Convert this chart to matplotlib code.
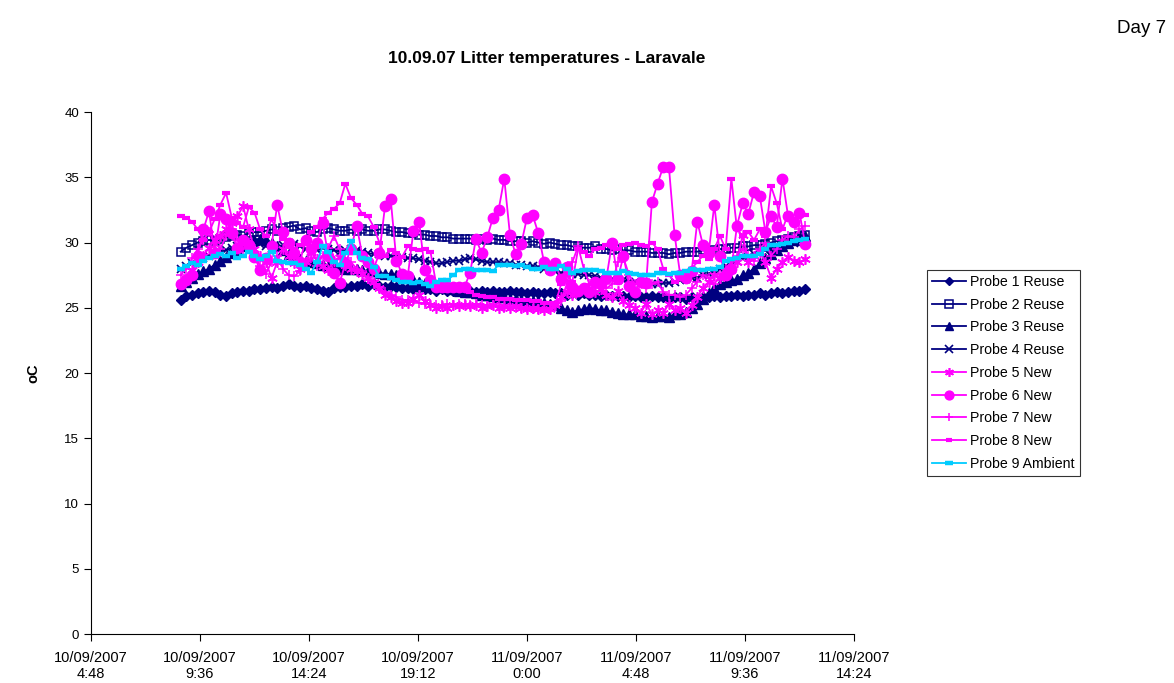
import matplotlib
matplotlib.use("Agg")
import matplotlib.pyplot as plt
import matplotlib.dates as mdates
from matplotlib.ticker import FuncFormatter, MultipleLocator
import numpy as np
import pandas as pd

plt.rcParams["font.family"] = ["Liberation Sans", "DejaVu Sans"]

# Logger readings, every 15 minutes
start_time = "2007-09-10 08:45"
interval = "15min"

probe1_reuse = [
    25.6, 25.9, 26.0, 26.1, 26.2, 26.3, 26.2, 26.0, 25.9, 26.1,
    26.2, 26.3, 26.3, 26.4, 26.4, 26.5, 26.6, 26.5, 26.7, 26.8,
    26.7, 26.6, 26.7, 26.5, 26.4, 26.3, 26.2, 26.5, 26.6, 26.6,
    26.7, 26.7, 26.8, 26.7, 26.8, 26.7, 26.6, 26.7, 26.6, 26.5,
    26.5, 26.4, 26.5, 26.4, 26.4, 26.3, 26.4, 26.3, 26.3, 26.3,
    26.3, 26.3, 26.2, 26.3, 26.2, 26.3, 26.2, 26.2, 26.3, 26.2,
    26.2, 26.1, 26.2, 26.1, 26.1, 26.2, 26.1, 26.1, 26.0, 26.1,
    26.0, 26.1, 26.0, 26.0, 25.9, 26.0, 25.9, 25.9, 25.9, 25.8,
    25.9, 25.8, 25.8, 25.9, 25.8, 25.8, 25.7, 25.8, 25.8, 25.7,
    25.8, 25.7, 25.8, 25.8, 25.9, 25.8, 25.9, 25.9, 26.0, 25.9,
    26.0, 26.0, 26.1, 26.0, 26.1, 26.2, 26.1, 26.2, 26.3, 26.3, 26.4,
]
probe2_reuse = [
    29.3, 29.6, 29.8, 30.0, 30.1, 30.2, 30.1, 30.3, 30.4, 30.5,
    30.6, 30.5, 30.7, 30.8, 30.8, 30.9, 31.0, 30.9, 31.1, 31.2,
    31.3, 31.0, 31.1, 30.9, 30.8, 31.0, 31.1, 31.0, 30.9, 30.9,
    31.0, 30.9, 31.0, 30.9, 30.9, 31.0, 31.0, 30.9, 30.8, 30.8,
    30.7, 30.7, 30.6, 30.6, 30.5, 30.5, 30.4, 30.4, 30.3, 30.3,
    30.3, 30.3, 30.2, 30.3, 30.2, 30.3, 30.2, 30.2, 30.1, 30.1,
    30.1, 30.0, 30.1, 30.0, 29.9, 30.0, 29.9, 29.8, 29.8, 29.7,
    29.7, 29.6, 29.6, 29.7, 29.5, 29.5, 29.4, 29.5, 29.4, 29.4,
    29.3, 29.3, 29.3, 29.2, 29.2, 29.2, 29.1, 29.2, 29.2, 29.3,
    29.3, 29.3, 29.4, 29.3, 29.4, 29.5, 29.5, 29.6, 29.6, 29.7,
    29.7, 29.8, 29.8, 29.9, 30.0, 30.1, 30.2, 30.3, 30.4, 30.5, 30.6,
]
probe3_reuse = [
    26.7, 27.0, 27.3, 27.6, 27.8, 28.0, 28.3, 28.6, 28.9, 29.2,
    29.4, 29.7, 30.0, 30.2, 30.3, 30.2, 30.0, 29.7, 29.4, 29.1,
    28.9, 28.7, 28.6, 28.5, 28.4, 28.3, 28.2, 28.1, 28.1, 28.0,
    28.0, 28.0, 27.9, 27.8, 27.8, 27.7, 27.6, 27.6, 27.5, 27.4,
    27.3, 27.1, 27.0, 26.9, 26.8, 26.7, 26.6, 26.5, 26.4, 26.3,
    26.2, 26.2, 26.1, 26.0, 26.0, 25.9, 25.8, 25.8, 25.7, 25.7,
    25.6, 25.6, 25.5, 25.5, 25.4, 25.3, 25.2, 25.0, 24.8, 24.7,
    24.8, 24.9, 25.0, 24.9, 24.8, 24.8, 24.7, 24.6, 24.5, 24.5,
    24.5, 24.4, 24.4, 24.3, 24.4, 24.4, 24.3, 24.5, 24.5, 24.7,
    25.0, 25.3, 25.7, 26.1, 26.5, 26.8, 27.0, 27.1, 27.2, 27.5,
    27.7, 28.0, 28.4, 28.8, 29.1, 29.4, 29.7, 30.0, 30.2, 30.4, 30.5,
]
probe4_reuse = [
    28.0, 28.2, 28.4, 28.6, 28.8, 29.0, 29.1, 29.3, 29.4, 29.6,
    29.7, 29.8, 29.9, 30.0, 29.9, 29.7, 29.6, 29.5, 29.8, 30.0,
    29.9, 29.7, 29.5, 29.3, 29.4, 29.6, 29.5, 29.4, 29.3, 29.4,
    29.5, 29.4, 29.3, 29.2, 29.1, 29.1, 29.0, 29.0, 28.9, 28.9,
    28.8, 28.8, 28.7, 28.6, 28.5, 28.4, 28.4, 28.5, 28.6, 28.6,
    28.7, 28.8, 28.7, 28.6, 28.5, 28.5, 28.5, 28.4, 28.4, 28.3,
    28.3, 28.2, 28.2, 28.1, 28.0, 27.9, 27.8, 27.7, 27.7, 27.6,
    27.6, 27.5, 27.5, 27.4, 27.3, 27.2, 27.2, 27.1, 27.1, 27.0,
    27.0, 26.9, 26.9, 26.8, 26.8, 26.9, 26.9, 27.0, 27.1, 27.2,
    27.3, 27.3, 27.5, 27.6, 27.8, 28.0, 28.2, 28.4, 28.6, 28.8,
    28.9, 29.1, 29.3, 29.4, 29.5, 29.7, 29.8, 29.9, 30.0, 30.1, 30.2,
]
probe5_new = [
    26.8, 27.2, 27.9, 28.5, 29.0, 29.6, 30.2, 30.5, 31.0, 31.5,
    32.0, 32.8, 31.0, 29.5, 29.0, 28.5, 27.3, 28.5, 29.5, 29.0,
    28.4, 28.0, 28.5, 29.3, 28.7, 28.2, 27.9, 28.6, 28.9, 28.3,
    28.0, 27.8, 27.6, 27.3, 27.0, 26.5, 26.0, 25.8, 25.5, 25.4,
    25.4, 25.7, 26.0, 25.5, 25.2, 25.0, 25.1, 25.0, 25.2, 25.1,
    25.2, 25.1, 25.2, 25.0, 25.1, 25.2, 25.0, 25.1, 25.0, 25.1,
    25.0, 24.9, 25.0, 24.9, 24.8, 24.9, 25.2, 25.8, 26.2, 26.0,
    26.3, 26.5, 26.4, 26.2, 26.4, 26.0, 25.8, 26.3, 25.5, 25.2,
    25.0, 24.6, 25.3, 24.5, 24.8, 24.6, 25.3, 24.8, 25.0, 24.6,
    25.2, 25.8, 26.5, 27.0, 27.5, 27.3, 27.8, 27.9, 28.5, 30.6,
    28.5, 29.0, 29.3, 28.5, 27.3, 28.0, 28.5, 28.9, 28.6, 28.5, 28.7,
]
probe6_new = [
    26.8, 27.1, 27.5, 29.0, 31.0, 32.4, 29.2, 32.2, 31.8, 30.7,
    29.6, 30.2, 29.8, 28.9, 27.9, 28.8, 29.7, 32.9, 30.8, 30.0,
    29.2, 28.5, 30.2, 29.5, 30.0, 31.5, 29.0, 27.7, 26.9, 28.4,
    29.5, 31.3, 29.0, 28.5, 28.0, 29.2, 32.8, 33.3, 28.6, 27.6,
    27.4, 30.9, 31.6, 27.9, 27.1, 26.6, 26.6, 26.6, 26.6, 26.6,
    26.6, 27.7, 30.3, 29.2, 30.4, 31.9, 32.5, 34.9, 30.6, 29.1,
    29.9, 31.9, 32.1, 30.7, 28.5, 27.9, 28.4, 27.2, 28.1, 26.6,
    26.3, 26.5, 26.2, 27.0, 26.8, 27.3, 30.0, 27.2, 29.0, 26.7,
    26.2, 27.0, 26.9, 33.1, 34.5, 35.8, 35.8, 30.6, 27.5, 27.3,
    27.8, 31.6, 29.8, 29.2, 32.9, 29.0, 27.5, 28.0, 31.3, 33.0,
    32.2, 33.9, 33.6, 30.8, 32.0, 31.2, 34.9, 32.0, 31.6, 32.3, 29.9,
]
probe7_new = [
    27.5, 28.0, 28.8, 29.5, 30.2, 30.8, 30.0, 29.5, 30.5, 31.0,
    30.2, 29.5, 30.0, 29.0, 28.2, 27.6, 28.5, 29.0, 28.0, 27.5,
    27.4, 27.8, 28.5, 28.8, 28.2, 29.0, 29.6, 30.5, 29.5, 28.8,
    28.5, 28.0, 27.8, 27.2, 26.8, 26.5, 26.2, 26.0, 25.8, 25.6,
    25.6, 25.5, 25.4, 25.3, 25.3, 25.2, 25.2, 25.3, 25.2, 25.3,
    25.3, 25.2, 25.3, 25.2, 25.1, 25.2, 25.1, 25.0, 25.1, 25.0,
    25.0, 25.0, 24.9, 24.9, 25.0, 24.9, 25.1, 25.5, 26.8, 28.5,
    29.7, 28.0, 26.8, 26.5, 27.0, 26.5, 26.8, 28.5, 28.8, 27.5,
    26.8, 27.0, 26.5, 26.8, 27.0, 26.2, 26.0, 26.0, 25.8, 26.0,
    26.5, 27.0, 27.5, 27.3, 26.8, 27.5, 28.0, 28.5, 29.0, 29.5,
    29.0, 28.6, 29.5, 30.0, 29.0, 29.5, 30.2, 30.5, 30.4, 31.0, 31.3,
]
probe8_new = [
    32.0, 31.9, 31.6, 31.0, 30.2, 30.8, 31.8, 32.9, 33.8, 31.9,
    31.5, 31.2, 32.7, 32.3, 31.0, 30.5, 31.8, 30.8, 30.3, 30.0,
    29.5, 29.8, 30.2, 30.8, 31.2, 31.8, 32.3, 32.6, 33.0, 34.5,
    33.4, 32.9, 32.2, 32.0, 31.2, 30.0, 29.0, 29.4, 29.2, 28.9,
    29.7, 29.5, 29.4, 29.5, 29.3, 26.8, 26.6, 26.5, 26.5, 26.4,
    26.4, 26.2, 26.0, 25.9, 25.8, 25.8, 25.7, 25.7, 25.7, 25.6,
    25.6, 25.6, 25.5, 25.5, 25.4, 25.4, 25.3, 26.8, 27.5, 27.0,
    29.5, 29.3, 29.0, 29.5, 29.6, 29.8, 29.7, 29.5, 29.8, 29.9,
    30.0, 29.8, 29.7, 30.0, 29.5, 28.0, 27.5, 27.0, 27.3, 27.6,
    28.0, 28.5, 29.0, 28.7, 29.5, 30.5, 29.5, 34.9, 31.0, 30.5,
    30.8, 30.2, 31.0, 30.5, 34.3, 33.0, 31.0, 32.2, 31.6, 32.3, 32.1,
]
probe9_ambient = [
    28.0, 28.2, 28.4, 28.3, 28.6, 28.8, 29.0, 29.1, 29.0, 29.2,
    28.8, 29.0, 29.3, 29.0, 28.7, 29.0, 29.3, 28.6, 28.5, 28.4,
    28.4, 28.3, 28.0, 27.7, 28.5, 29.7, 29.3, 28.5, 28.3, 29.2,
    30.1, 29.2, 28.8, 28.7, 28.1, 27.4, 27.4, 27.3, 27.1, 27.0,
    27.0, 26.9, 27.0, 26.8, 26.7, 27.0, 27.1, 27.1, 27.5, 27.9,
    28.0, 28.0, 27.9, 27.9, 27.9, 27.8, 28.3, 28.3, 28.3, 28.2,
    28.3, 28.1, 28.0, 28.0, 28.1, 28.0, 28.0, 28.2, 28.0, 27.7,
    27.8, 27.9, 27.9, 27.9, 27.8, 27.7, 27.7, 27.7, 27.8, 27.7,
    27.6, 27.5, 27.5, 27.5, 27.7, 27.7, 27.6, 27.7, 27.7, 27.8,
    28.0, 27.9, 27.9, 28.0, 28.0, 28.1, 28.6, 28.7, 28.8, 29.0,
    29.0, 29.0, 29.1, 29.5, 29.8, 29.8, 29.9, 30.0, 30.1, 30.2, 30.3,
]

series_names = [
    "Probe 1 Reuse", "Probe 2 Reuse", "Probe 3 Reuse", "Probe 4 Reuse",
    "Probe 5 New", "Probe 6 New", "Probe 7 New", "Probe 8 New",
    "Probe 9 Ambient",
]
series_values = [
    probe1_reuse, probe2_reuse, probe3_reuse, probe4_reuse,
    probe5_new, probe6_new, probe7_new, probe8_new, probe9_ambient,
]

times = pd.date_range(start_time, periods=len(probe1_reuse), freq=interval)

NAVY = "#000080"
MAGENTA = "#FF00FF"
CYAN = "#00CCFF"
asterisk = (6, 2, 0)

styles = [
    dict(color=NAVY, marker="D", ms=5.2, mfc=NAVY, mec=NAVY),
    dict(color=NAVY, marker="s", ms=6.0, mfc="none", mec=NAVY, mew=1.1),
    dict(color=NAVY, marker="^", ms=6.5, mfc=NAVY, mec=NAVY),
    dict(color=NAVY, marker="x", ms=6.0, mec=NAVY, mew=1.2),
    dict(color=MAGENTA, marker=asterisk, ms=7.5, mec=MAGENTA, mew=1.2),
    dict(color=MAGENTA, marker="o", ms=7.5, mfc=MAGENTA, mec=MAGENTA),
    dict(color=MAGENTA, marker="+", ms=7.0, mec=MAGENTA, mew=1.1),
    dict(color=MAGENTA, marker="_", ms=5.5, mec=MAGENTA, mew=3.0),
    dict(color=CYAN, marker="_", ms=6.0, mec=CYAN, mew=3.2),
]

fig = plt.figure(figsize=(11.74, 6.83), dpi=100)
ax = fig.add_axes([0.0775, 0.0717, 0.6499, 0.7643])

for name, vals, st in zip(series_names, series_values, styles):
    ax.plot(times, vals, label=name, linewidth=1.3, **st)

# Axis ranges and ticks
x_start = pd.Timestamp("2007-09-10 04:48")
x_end = pd.Timestamp("2007-09-11 14:24")
ax.set_xlim(mdates.date2num(x_start), mdates.date2num(x_end))
tick_times = pd.date_range(x_start, x_end, freq="288min")
ax.set_xticks(mdates.date2num(tick_times))


def fmt_date(v, pos):
    d = mdates.num2date(v)
    return f"{d:%d/%m/%Y}\n{d.hour}:{d.minute:02d}"


ax.xaxis.set_major_formatter(FuncFormatter(fmt_date))
ax.set_ylim(0, 40)
ax.yaxis.set_major_locator(MultipleLocator(5))

for side in ("top", "right"):
    ax.spines[side].set_visible(False)
for side in ("left", "bottom"):
    ax.spines[side].set_linewidth(0.8)
    ax.spines[side].set_color("black")
ax.tick_params(axis="both", direction="out", length=5, width=0.8,
               colors="black")
ax.tick_params(axis="y", labelsize=9.5)
ax.tick_params(axis="x", labelsize=10.5, pad=7)

fig.text(33 / 1174, 1 - 373 / 683, "oC", rotation=90, ha="center",
         va="center", fontsize=10.5, fontweight="bold")

fig.text(0.466, 0.914, "10.09.07 Litter temperatures - Laravale",
         ha="center", va="center", fontsize=12.5, fontweight="bold")
fig.text(0.993, 0.958, "Day 7", ha="right", va="center", fontsize=13.5)

leg = ax.legend(loc="upper left", bbox_to_anchor=(0.7896, 0.605),
                bbox_transform=fig.transFigure, frameon=True, fancybox=False,
                shadow=False, fontsize=10.2, handlelength=2.4,
                borderpad=0.35, labelspacing=0.62, handletextpad=0.3,
                borderaxespad=0, markerscale=0.85)
leg.get_frame().set_edgecolor("black")
leg.get_frame().set_linewidth(0.8)

fig.savefig("out.png", dpi=100, facecolor="white")
